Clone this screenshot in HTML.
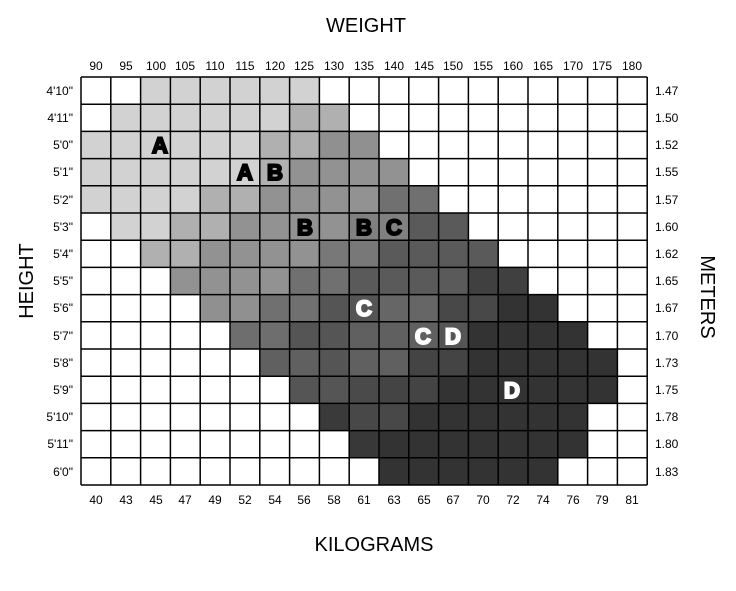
<!DOCTYPE html><html><head><style>body{margin:0;background:#fff}svg{display:block}text{font-family:"Liberation Sans",Arial,sans-serif}</style></head><body>
<svg width="736" height="591" viewBox="0 0 736 591">
<g>
<rect x="140.6" y="77" width="178.8" height="27.2" fill="#d2d2d2"/>
<rect x="110.8" y="104.2" width="178.8" height="27.2" fill="#d2d2d2"/><rect x="289.6" y="104.2" width="59.6" height="27.2" fill="#b0b0b0"/>
<rect x="81" y="131.4" width="178.8" height="27.2" fill="#d2d2d2"/><rect x="259.8" y="131.4" width="59.6" height="27.2" fill="#b0b0b0"/><rect x="319.4" y="131.4" width="59.6" height="27.2" fill="#909090"/>
<rect x="81" y="158.6" width="178.8" height="27.2" fill="#d2d2d2"/><rect x="259.8" y="158.6" width="29.8" height="27.2" fill="#b0b0b0"/><rect x="289.6" y="158.6" width="119.2" height="27.2" fill="#929292"/>
<rect x="81" y="185.8" width="119.2" height="27.2" fill="#d2d2d2"/><rect x="200.2" y="185.8" width="59.6" height="27.2" fill="#b0b0b0"/><rect x="259.8" y="185.8" width="119.2" height="27.2" fill="#929292"/><rect x="379" y="185.8" width="59.6" height="27.2" fill="#707070"/>
<rect x="110.8" y="213" width="59.6" height="27.2" fill="#d2d2d2"/><rect x="170.4" y="213" width="59.6" height="27.2" fill="#b0b0b0"/><rect x="230" y="213" width="119.2" height="27.2" fill="#929292"/><rect x="349.2" y="213" width="59.6" height="27.2" fill="#808080"/><rect x="408.8" y="213" width="59.6" height="27.2" fill="#5a5a5a"/>
<rect x="140.6" y="240.2" width="59.6" height="27.2" fill="#b0b0b0"/><rect x="200.2" y="240.2" width="119.2" height="27.2" fill="#929292"/><rect x="319.4" y="240.2" width="59.6" height="27.2" fill="#787878"/><rect x="379" y="240.2" width="119.2" height="27.2" fill="#5a5a5a"/>
<rect x="170.4" y="267.4" width="119.2" height="27.2" fill="#929292"/><rect x="289.6" y="267.4" width="59.6" height="27.2" fill="#707070"/><rect x="349.2" y="267.4" width="119.2" height="27.2" fill="#5a5a5a"/><rect x="468.4" y="267.4" width="59.6" height="27.2" fill="#404040"/>
<rect x="200.2" y="294.6" width="59.6" height="27.2" fill="#909090"/><rect x="259.8" y="294.6" width="59.6" height="27.2" fill="#707070"/><rect x="319.4" y="294.6" width="59.6" height="27.2" fill="#555"/><rect x="379" y="294.6" width="59.6" height="27.2" fill="#666"/><rect x="438.6" y="294.6" width="59.6" height="27.2" fill="#484848"/><rect x="498.2" y="294.6" width="59.6" height="27.2" fill="#333"/>
<rect x="230" y="321.8" width="59.6" height="27.2" fill="#6e6e6e"/><rect x="289.6" y="321.8" width="59.6" height="27.2" fill="#555"/><rect x="349.2" y="321.8" width="89.4" height="27.2" fill="#606060"/><rect x="438.6" y="321.8" width="29.8" height="27.2" fill="#555"/><rect x="468.4" y="321.8" width="119.2" height="27.2" fill="#333"/>
<rect x="259.8" y="349" width="59.6" height="27.2" fill="#606060"/><rect x="319.4" y="349" width="29.8" height="27.2" fill="#555"/><rect x="349.2" y="349" width="59.6" height="27.2" fill="#606060"/><rect x="408.8" y="349" width="59.6" height="27.2" fill="#444"/><rect x="468.4" y="349" width="149" height="27.2" fill="#333"/>
<rect x="289.6" y="376.2" width="59.6" height="27.2" fill="#555"/><rect x="349.2" y="376.2" width="29.8" height="27.2" fill="#4a4a4a"/><rect x="379" y="376.2" width="59.6" height="27.2" fill="#444"/><rect x="438.6" y="376.2" width="178.8" height="27.2" fill="#333"/>
<rect x="319.4" y="403.4" width="29.8" height="27.2" fill="#3a3a3a"/><rect x="349.2" y="403.4" width="59.6" height="27.2" fill="#484848"/><rect x="408.8" y="403.4" width="178.8" height="27.2" fill="#333"/>
<rect x="349.2" y="430.6" width="29.8" height="27.2" fill="#383838"/><rect x="379" y="430.6" width="208.6" height="27.2" fill="#333"/>
<rect x="379" y="457.8" width="178.8" height="27.2" fill="#333"/>
</g>
<g stroke="#000" stroke-width="1.5">
<path d="M81 77V485M110.8 77V485M140.6 77V485M170.4 77V485M200.2 77V485M230 77V485M259.8 77V485M289.6 77V485M319.4 77V485M349.2 77V485M379 77V485M408.8 77V485M438.6 77V485M468.4 77V485M498.2 77V485M528 77V485M557.8 77V485M587.6 77V485M617.4 77V485M647.2 77V485"/>
<path d="M81 77H647.2M81 104.2H647.2M81 131.4H647.2M81 158.6H647.2M81 185.8H647.2M81 213H647.2M81 240.2H647.2M81 267.4H647.2M81 294.6H647.2M81 321.8H647.2M81 349H647.2M81 376.2H647.2M81 403.4H647.2M81 430.6H647.2M81 457.8H647.2M81 485H647.2"/>
</g>
<g font-size="22" font-weight="bold" text-anchor="middle" stroke-width="2">
<text x="160" y="153" fill="#000" stroke="#000">A</text>
<text x="245" y="180" fill="#000" stroke="#000">A</text>
<text x="275" y="180" fill="#000" stroke="#000">B</text>
<text x="305" y="235" fill="#000" stroke="#000">B</text>
<text x="364" y="235" fill="#000" stroke="#000">B</text>
<text x="394" y="235" fill="#000" stroke="#000">C</text>
<text x="364" y="316" fill="#fff" stroke="#fff">C</text>
<text x="423" y="344" fill="#fff" stroke="#fff">C</text>
<text x="453" y="344" fill="#fff" stroke="#fff">D</text>
<text x="512" y="398" fill="#fff" stroke="#fff">D</text>
</g>
<g font-size="12" text-anchor="middle" fill="#000">
<text x="96" y="70">90</text><text x="126" y="70">95</text><text x="156" y="70">100</text><text x="185" y="70">105</text><text x="215" y="70">110</text><text x="245" y="70">115</text><text x="275" y="70">120</text><text x="304" y="70">125</text><text x="334" y="70">130</text><text x="364" y="70">135</text><text x="394" y="70">140</text><text x="424" y="70">145</text><text x="453" y="70">150</text><text x="483" y="70">155</text><text x="513" y="70">160</text><text x="543" y="70">165</text><text x="573" y="70">170</text><text x="602" y="70">175</text><text x="632" y="70">180</text>
<text x="96" y="504">40</text><text x="126" y="504">43</text><text x="156" y="504">45</text><text x="185" y="504">47</text><text x="215" y="504">49</text><text x="245" y="504">52</text><text x="275" y="504">54</text><text x="304" y="504">56</text><text x="334" y="504">58</text><text x="364" y="504">61</text><text x="394" y="504">63</text><text x="424" y="504">65</text><text x="453" y="504">67</text><text x="483" y="504">70</text><text x="513" y="504">72</text><text x="543" y="504">74</text><text x="573" y="504">76</text><text x="602" y="504">79</text><text x="632" y="504">81</text>
</g>
<g font-size="12" text-anchor="end">
<text x="73" y="95">4'10"</text><text x="73" y="122">4'11"</text><text x="73" y="149">5'0"</text><text x="73" y="176">5'1"</text><text x="73" y="204">5'2"</text><text x="73" y="231">5'3"</text><text x="73" y="258">5'4"</text><text x="73" y="285">5'5"</text><text x="73" y="312">5'6"</text><text x="73" y="340">5'7"</text><text x="73" y="367">5'8"</text><text x="73" y="394">5'9"</text><text x="73" y="421">5'10"</text><text x="73" y="448">5'11"</text><text x="73" y="476">6'0"</text>
</g>
<g font-size="12">
<text x="655" y="95">1.47</text><text x="655" y="122">1.50</text><text x="655" y="149">1.52</text><text x="655" y="176">1.55</text><text x="655" y="204">1.57</text><text x="655" y="231">1.60</text><text x="655" y="258">1.62</text><text x="655" y="285">1.65</text><text x="655" y="312">1.67</text><text x="655" y="340">1.70</text><text x="655" y="367">1.73</text><text x="655" y="394">1.75</text><text x="655" y="421">1.78</text><text x="655" y="448">1.80</text><text x="655" y="476">1.83</text>
</g>
<g font-size="20" text-anchor="middle">
<text x="366" y="32">WEIGHT</text>
<text x="374" y="551">KILOGRAMS</text>
<text transform="translate(33,281) rotate(-90)">HEIGHT</text>
<text transform="translate(701,297) rotate(90)">METERS</text>
</g>
</svg></body></html>
